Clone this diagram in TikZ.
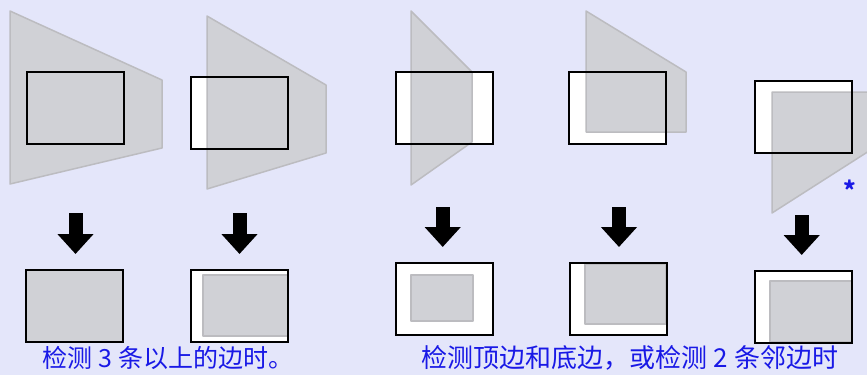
\documentclass[tikz,border=0pt]{standalone}
\usepackage{fontspec}
\newfontfamily\cjk{Noto Sans CJK SC}
\usetikzlibrary{arrows.meta}
\definecolor{bgpanel}{RGB}{228,230,250}
\definecolor{screengray}{RGB}{208,209,214}
\definecolor{screenedge}{RGB}{188,188,192}
\definecolor{captionblue}{RGB}{25,25,230}

\begin{document}
\begin{tikzpicture}
[
x=1pt,y=-1pt,
frame/.style={draw=black,line width=2pt,fill=white,minimum width=97pt,minimum height=72pt,inner sep=0pt,outer sep=0pt},
screen/.style={fill=screengray,draw=screenedge,line width=1.5pt,line join=round},
outline/.style={draw=black,line width=2pt},
downarrow/.style={line width=14pt,-{Triangle[width=35pt,length=20pt]}},
caption/.style={text=captionblue,font=\cjk\fontsize{25}{25}\selectfont,inner sep=0pt},
]
\useasboundingbox (0,0) rectangle (867,375);
\fill[bgpanel] (0,0) rectangle (867,375);

%Place the frames
\node[frame] (t1) at (75,107.5) {};
\node[frame] (t2) at (239.5,112.5) {};
\node[frame] (t3) at (444,107.5) {};
\node[frame] (t4) at (617.5,108) {};
\node[frame] (t5) at (803,116.5) {};
\node[frame,fill=screengray] (b1) at (74.5,305.5) {};
\node[frame] (b2) at (239,305.5) {};
\node[frame] (b3) at (444,298.5) {};
\node[frame] (b4) at (618,298.5) {};
\node[frame] (b5) at (803.5,306.5) {};

%Projected screens
\begin{scope}
\clip (0,0) rectangle (867,375);
\draw[screen] (10,11) -- (162,80) -- (162,148) -- (10,184) -- cycle;
\draw[screen] (207,16) -- (326,85) -- (326,153) -- (207,189) -- cycle;
\draw[screen] (411,11) -- (472,72) -- (472,142) -- (411,185) -- cycle;
\draw[screen] (586,11) -- (686,72) -- (686,132) -- (586,132) -- cycle;
\draw[screen] (772,92) -- (880,92) -- (880,144) -- (772,213) -- cycle;
\end{scope}
\draw[screen] (203,275) rectangle (288,336);
\draw[screen] (411,275) rectangle (473,321);
\draw[screen] (585,264) rectangle (666,324);
\draw[screen] (770,281) rectangle (852,342);

%Frame borders on top
\foreach \f in {t1,t2,t3,t4,t5,b2,b3,b4,b5}
  \draw[outline] (\f.north west) rectangle (\f.south east);

%Draw the arrows
\coordinate (a1) at (75.5,213);
\coordinate (a2) at (239.5,213);
\coordinate (a3) at (442.7,207);
\coordinate (a4) at (619,207);
\coordinate (a5) at (801.7,215);
\coordinate (e1) at (75.5,254);
\coordinate (e2) at (239.5,254);
\coordinate (e3) at (442.7,247);
\coordinate (e4) at (619,247);
\coordinate (e5) at (801.7,255);
\foreach \i in {1,...,5}
  \draw[downarrow] (a\i) -- (e\i);

%Captions
\node[caption] (c1) at (168,358) {检测 3 条以上的边时。};
\node[caption,font=\cjk\fontsize{26}{26}\selectfont] (c2) at (630,358) {检测顶边和底边，或检测 2 条邻边时};
\node[text=captionblue,font=\cjk\bfseries\fontsize{24}{24}\selectfont,inner sep=0pt,anchor=north] (star) at (850,180) {*};
\end{tikzpicture}
\end{document}
